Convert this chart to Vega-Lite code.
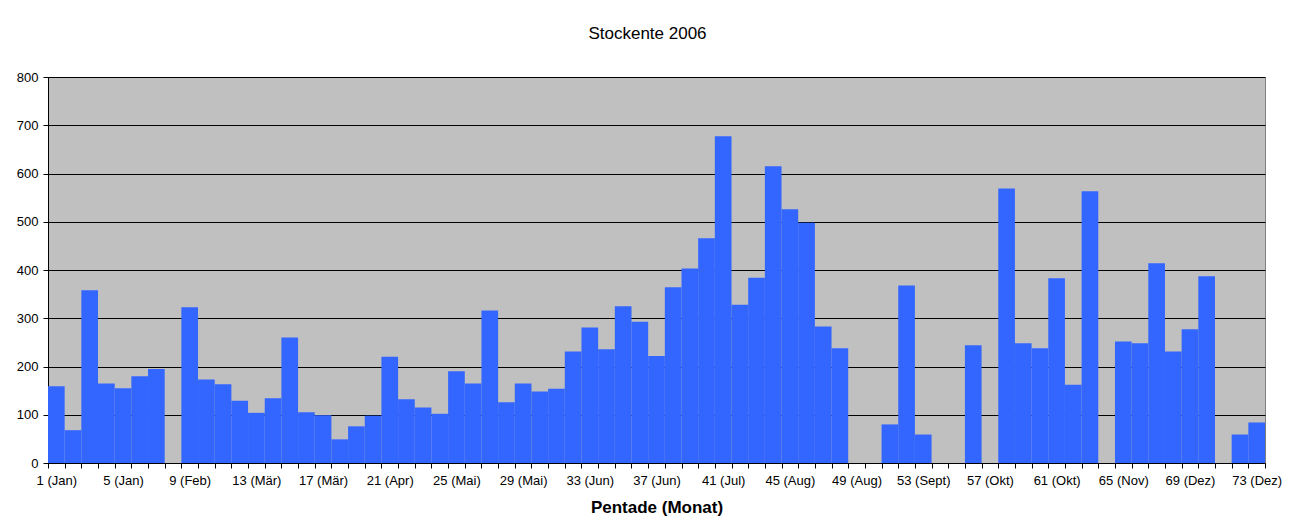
{
  "$schema": "https://vega.github.io/schema/vega-lite/v6.json",
  "width": 1217,
  "height": 386,
  "autosize": {"type": "none"},
  "padding": {"left": 48, "top": 77, "right": 30, "bottom": 62},
  "background": "white",
  "title": {
    "text": "Stockente 2006",
    "font": "Liberation Sans",
    "fontSize": 17,
    "fontWeight": "normal",
    "color": "black",
    "offset": 28,
    "dx": -9
  },
  "config": {
    "font": "Liberation Sans",
    "view": {"fill": "#C0C0C0", "stroke": "#808080", "strokeWidth": 1}
  },
  "data": {
    "values": [
      {"pentade": 1, "anzahl": 159}, {"pentade": 2, "anzahl": 68}, {"pentade": 3, "anzahl": 358},
      {"pentade": 4, "anzahl": 165}, {"pentade": 5, "anzahl": 155}, {"pentade": 6, "anzahl": 180},
      {"pentade": 7, "anzahl": 195}, {"pentade": 8, "anzahl": 0}, {"pentade": 9, "anzahl": 323},
      {"pentade": 10, "anzahl": 173}, {"pentade": 11, "anzahl": 163}, {"pentade": 12, "anzahl": 129},
      {"pentade": 13, "anzahl": 104}, {"pentade": 14, "anzahl": 134}, {"pentade": 15, "anzahl": 260},
      {"pentade": 16, "anzahl": 105}, {"pentade": 17, "anzahl": 99}, {"pentade": 18, "anzahl": 49},
      {"pentade": 19, "anzahl": 76}, {"pentade": 20, "anzahl": 98}, {"pentade": 21, "anzahl": 220},
      {"pentade": 22, "anzahl": 132}, {"pentade": 23, "anzahl": 115}, {"pentade": 24, "anzahl": 102},
      {"pentade": 25, "anzahl": 190}, {"pentade": 26, "anzahl": 165}, {"pentade": 27, "anzahl": 316},
      {"pentade": 28, "anzahl": 126}, {"pentade": 29, "anzahl": 165}, {"pentade": 30, "anzahl": 148},
      {"pentade": 31, "anzahl": 154}, {"pentade": 32, "anzahl": 231}, {"pentade": 33, "anzahl": 281},
      {"pentade": 34, "anzahl": 236}, {"pentade": 35, "anzahl": 325}, {"pentade": 36, "anzahl": 293},
      {"pentade": 37, "anzahl": 222}, {"pentade": 38, "anzahl": 364}, {"pentade": 39, "anzahl": 403},
      {"pentade": 40, "anzahl": 466}, {"pentade": 41, "anzahl": 677}, {"pentade": 42, "anzahl": 328},
      {"pentade": 43, "anzahl": 384}, {"pentade": 44, "anzahl": 615}, {"pentade": 45, "anzahl": 526},
      {"pentade": 46, "anzahl": 498}, {"pentade": 47, "anzahl": 283}, {"pentade": 48, "anzahl": 238},
      {"pentade": 49, "anzahl": 0}, {"pentade": 50, "anzahl": 0}, {"pentade": 51, "anzahl": 80},
      {"pentade": 52, "anzahl": 368}, {"pentade": 53, "anzahl": 59}, {"pentade": 54, "anzahl": 0},
      {"pentade": 55, "anzahl": 0}, {"pentade": 56, "anzahl": 244}, {"pentade": 57, "anzahl": 0},
      {"pentade": 58, "anzahl": 569}, {"pentade": 59, "anzahl": 248}, {"pentade": 60, "anzahl": 238},
      {"pentade": 61, "anzahl": 383}, {"pentade": 62, "anzahl": 162}, {"pentade": 63, "anzahl": 563},
      {"pentade": 64, "anzahl": 0}, {"pentade": 65, "anzahl": 252}, {"pentade": 66, "anzahl": 248},
      {"pentade": 67, "anzahl": 414}, {"pentade": 68, "anzahl": 231}, {"pentade": 69, "anzahl": 277},
      {"pentade": 70, "anzahl": 387}, {"pentade": 71, "anzahl": 0}, {"pentade": 72, "anzahl": 59},
      {"pentade": 73, "anzahl": 84}
    ]
  },
  "mark": {"type": "bar", "color": "#3366FF"},
  "encoding": {
    "x": {
      "field": "pentade",
      "type": "ordinal",
      "sort": "ascending",
      "scale": {"paddingInner": 0, "paddingOuter": 0},
      "axis": {
        "title": "Pentade (Monat)",
        "titleFont": "Liberation Sans",
        "titleFontSize": 17,
        "titleFontWeight": "bold",
        "titleColor": "black",
        "titlePadding": 12,
        "labelAngle": 0,
        "labelFontSize": 13,
        "labelColor": "black",
        "labelPadding": 6,
        "labelOverlap": false,
        "labelExpr": "(datum.value - 1) % 4 == 0 ? datum.value + ' (' + ['Jan','Jan','Feb','Mär','Mär','Apr','Mai','Mai','Jun','Jun','Jul','Aug','Aug','Sept','Okt','Okt','Nov','Dez','Dez'][(datum.value - 1) / 4] + ')' : ''",
        "tickBand": "extent",
        "tickSize": 5,
        "tickColor": "black",
        "domainColor": "black",
        "grid": false
      }
    },
    "y": {
      "field": "anzahl",
      "type": "quantitative",
      "scale": {"domain": [0, 800], "nice": false},
      "axis": {
        "title": null,
        "values": [0, 100, 200, 300, 400, 500, 600, 700, 800],
        "labelFontSize": 13,
        "labelColor": "black",
        "labelPadding": 5,
        "tickSize": 5,
        "tickColor": "black",
        "domainColor": "black",
        "grid": true,
        "gridColor": "black",
        "gridWidth": 1,
        "gridOpacity": 1
      }
    }
  }
}
